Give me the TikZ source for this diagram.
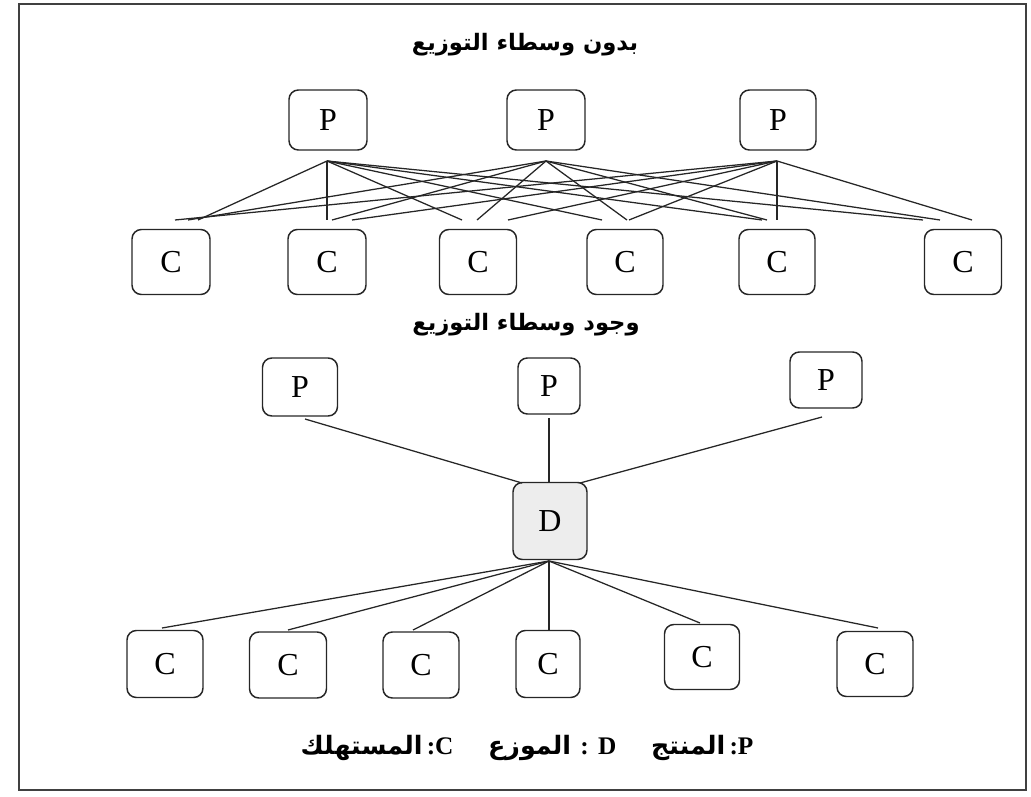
\documentclass[tikz,border=0pt]{standalone}
\usepackage{fontspec}
\TeXXeTstate=1
\newfontfamily\arabicfont[Script=Arabic]{DejaVu Sans}
\newfontfamily\latinfont{Liberation Serif}
\usetikzlibrary{calc}
\newcommand\arw[1]{{\arabicfont\bfseries\beginR #1\endR}}
\newcommand\lb[1]{{\latinfont\bfseries #1}}
\begin{document}
\begin{tikzpicture}[x=0.75pt,y=-0.75pt,
  box/.style={draw=black!85, line width=1.1pt, rounded corners=7pt, inner sep=0pt, font=\latinfont\fontsize{24}{26}\selectfont},
  dbox/.style={box, fill=black!7},
  ln/.style={line width=0.95pt, draw=black!85},
  frame/.style={line width=1.9pt, draw=black!75},
  title/.style={font=\fontsize{17}{20}\selectfont, inner sep=0pt},
  legend/.style={font=\fontsize{19}{22}\selectfont, inner sep=0pt}]
\useasboundingbox (0,0) rectangle (1031,796);
\draw[frame] (19,4) rectangle (1026,790);

\newcommand\bx[7][box]{\node[#1, minimum width={#5*0.75pt}, minimum height={#6*0.75pt}] (#2) at (#3,#4) {#7};}

% ---------- top section ----------
\node[title] (t1) at (525,45) {\arw{بدون وسطاء التوزيع}};
\bx{tp1}{328}{120}{78}{60}{P}
\bx{tp2}{546}{120}{78}{60}{P}
\bx{tp3}{778}{120}{76}{60}{P}
\bx{tc1}{171}{262}{78}{65}{C}
\bx{tc2}{327}{262}{78}{65}{C}
\bx{tc3}{478}{262}{77}{65}{C}
\bx{tc4}{625}{262}{76}{65}{C}
\bx{tc5}{777}{262}{76}{65}{C}
\bx{tc6}{963}{262}{77}{65}{C}
\coordinate (to1) at (327,161);
\coordinate (to2) at (546,161);
\coordinate (to3) at (777,161);
\foreach \i/\j/\xe in {1/1/198,1/2/327,1/3/462,1/4/602,1/5/762,1/6/923,
                       2/1/188,2/2/332,2/3/477,2/4/627,2/5/767,2/6/940,
                       3/1/175,3/2/352,3/3/508,3/4/629,3/5/777,3/6/972}{
  \coordinate (te\i-\j) at (\xe,220);
  \draw[ln] (to\i) -- (te\i-\j);
}

% ---------- bottom section ----------
\node[title] (t2) at (526,325) {\arw{وجود وسطاء التوزيع}};
\bx{bp1}{300}{387}{75}{58}{P}
\bx{bp2}{549}{386}{62}{56}{P}
\bx{bp3}{826}{380}{72}{56}{P}
\bx[dbox]{d}{550}{521}{74}{77}{D}
\bx{bc1}{165}{664}{76}{67}{C}
\bx{bc2}{288}{665}{77}{66}{C}
\bx{bc3}{421}{665}{76}{66}{C}
\bx{bc4}{548}{664}{64}{67}{C}
\bx{bc5}{702}{657}{75}{65}{C}
\bx{bc6}{875}{664}{76}{65}{C}
\coordinate (bo1) at (305,419);
\coordinate (bo2) at (549,418);
\coordinate (bo3) at (822,417);
\coordinate (di1) at (522,483);
\coordinate (di2) at (549,483);
\coordinate (di3) at (580,483);
\draw[ln] (bo1) -- (di1);
\draw[ln] (bo2) -- (di2);
\draw[ln] (bo3) -- (di3);
\coordinate (dout) at (549,561);
\coordinate (be1) at (162,628);
\coordinate (be2) at (288,630);
\coordinate (be3) at (413,630);
\coordinate (be4) at (549,630);
\coordinate (be5) at (700,623);
\coordinate (be6) at (878,628);
\foreach \k in {1,...,6}{\draw[ln] (dout) -- (be\k);}

% ---------- legend ----------
\node[legend] (leg) at (527,748) {\arw{المستهلك}\,\lb{:C}\hspace{26pt}\arw{الموزع}\hspace{7pt}\lb{:}\hspace{7pt}\lb{D}\hspace{26pt}\arw{المنتج}\,\lb{:P}};
\end{tikzpicture}
\end{document}
